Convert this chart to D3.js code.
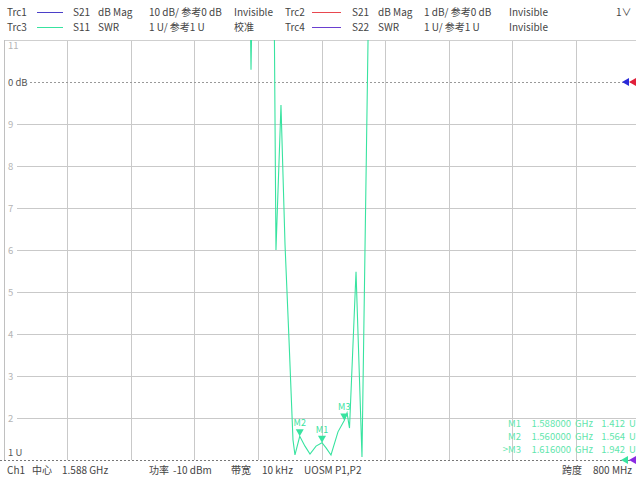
<!DOCTYPE html>
<html><head><meta charset="utf-8">
<script src="https://cdn.jsdelivr.net/npm/d3@7"></script>
<style>
html,body{margin:0;padding:0;background:#fff;}
svg{display:block;font-family:"Noto Sans CJK SC","Noto Sans",sans-serif;}
</style></head>
<body>
<script>
// ---- data ----
const freqGHz = [1.188, 1.400, 1.4962, 1.4987, 1.5019, 1.5270, 1.5301, 1.5364, 1.5415, 1.5465, 1.5515, 1.5540,
  1.5600, 1.5666, 1.5729, 1.5805, 1.5880, 1.5931, 1.5993, 1.6081, 1.6160, 1.6195, 1.6226, 1.6308, 1.6383,
  1.6459, 1.6484, 1.800, 1.988];
const swr = [16, 16, 14, 10.29, 14, 14, 6.0, 9.45, 6.12, 3.86, 1.48, 1.12,
  1.564, 1.33, 1.14, 1.33, 1.412, 1.29, 1.12, 1.67, 1.942, 2.12, 1.76, 5.48, 1.07,
  11.0, 14, 16, 16];
const markerNames = ["M1", "M2", "M3"];
const markerFreq = [1.588, 1.560, 1.616];
const markerVal = [1.412, 1.564, 1.942];
const yTicks = [1, 2, 3, 4, 5, 6, 7, 8, 9, 10, 11];
const yTickLabels = ["1 U", "2", "3", "4", "5", "6", "7", "8", "9", "0 dB", "11"];
const headerRow1 = [["Trc1", 7], ["S21", 73], ["dB Mag", 98], ["10 dB/ 参考0 dB", 149], ["Invisible", 234],
  ["Trc2", 285], ["S21", 352], ["dB Mag", 378], ["1 dB/ 参考0 dB", 424], ["Invisible", 509], ["1∨", 616]];
const headerRow2 = [["Trc3", 7], ["S11", 73], ["SWR", 98], ["1 U/ 参考1 U", 149], ["校准", 234],
  ["Trc4", 285], ["S22", 352], ["SWR", 378], ["1 U/ 参考1 U", 424], ["Invisible", 509]];
const footer = [["Ch1", 7], ["中心", 32], ["1.588 GHz", 62], ["功率", 149], ["-10 dBm", 173], ["带宽", 231],
  ["10 kHz", 262], ["UOSM P1,P2", 304], ["跨度", 562], ["800 MHz", 593]];
const center = 1.588, span = 0.8;

// ---- layout ----
const W = 636, H = 479;
const L = 4, R = 640, T = 40, B = 460;
const green = "#38e3a0";

const svg = d3.select("body").append("svg").attr("width", W).attr("height", H);
const x = d3.scaleLinear().domain([center - span / 2, center + span / 2]).range([L, R]);
const y = d3.scaleLinear().domain([1, 11]).range([B, T]);

// grid
const vTicks = d3.range(1, 10).map(i => center - span / 2 + i * span / 10);
svg.append("g").selectAll("line").data(vTicks).join("line")
  .attr("x1", d => x(d)).attr("x2", d => x(d)).attr("y1", T).attr("y2", B)
  .attr("stroke", "#c9c9c9").attr("stroke-width", 1).attr("shape-rendering", "crispEdges");
svg.append("g").selectAll("line").data(yTicks.filter(v => v > 1 && v < 10)).join("line")
  .attr("x1", 17).attr("x2", W).attr("y1", d => y(d)).attr("y2", d => y(d))
  .attr("stroke", "#c9c9c9").attr("stroke-width", 1).attr("shape-rendering", "crispEdges");
// borders
svg.append("line").attr("x1", L).attr("x2", W).attr("y1", T).attr("y2", T).attr("stroke", "#cfcfcf").attr("shape-rendering", "crispEdges");
svg.append("line").attr("x1", L).attr("x2", L).attr("y1", T).attr("y2", B).attr("stroke", "#c0c0c0").attr("shape-rendering", "crispEdges");
// reference dashed lines
svg.append("line").attr("x1", 30).attr("x2", W).attr("y1", y(10)).attr("y2", y(10))
  .attr("stroke", "#999").attr("stroke-dasharray", "2,2").attr("shape-rendering", "crispEdges");
svg.append("line").attr("x1", 0).attr("x2", W).attr("y1", y(1)).attr("y2", y(1))
  .attr("stroke", "#777").attr("stroke-dasharray", "2,2").attr("shape-rendering", "crispEdges");

// y labels
svg.append("g").selectAll("text").data(yTicks).join("text")
  .attr("x", 8)
  .attr("y", d => d === 11 ? y(d) + 9 : d === 1 ? y(d) - 4 : y(d) + 3.5)
  .attr("font-size", 9.5)
  .attr("fill", d => (d === 10 || d === 1) ? "#555" : "#b5b5b5")
  .text((d, i) => yTickLabels[i]);

// trace
const clip = svg.append("clipPath").attr("id", "plotclip").append("rect")
  .attr("x", L).attr("y", T).attr("width", R - L).attr("height", B - T);
const pts = freqGHz.map((f, i) => [f, swr[i]]);
svg.append("path").datum(pts)
  .attr("clip-path", "url(#plotclip)")
  .attr("fill", "none").attr("stroke", green).attr("stroke-width", 1.1)
  .attr("d", d3.line().x(d => x(d[0])).y(d => y(d[1])));

// markers
const mk = svg.append("g");
markerNames.forEach((n, i) => {
  const px = x(markerFreq[i]), py = y(markerVal[i]);
  mk.append("path").attr("d", `M${px},${py}L${px - 4},${py - 7}L${px + 4},${py - 7}Z`).attr("fill", green);
  mk.append("text").attr("x", px).attr("y", py - 10).attr("text-anchor", "middle")
    .attr("font-size", 9).attr("fill", green).text(n);
});

// marker table
[0, 1, 2].forEach((i, r) => {
  const by = 427 + r * 13;
  const g = svg.append("g").attr("font-size", 9.5).attr("fill", "#5fe6ad");
  g.append("text").attr("x", 521).attr("y", by).attr("text-anchor", "end").text((i === 2 ? ">" : "") + markerNames[i]);
  g.append("text").attr("x", 571).attr("y", by).attr("text-anchor", "end").text(markerFreq[i].toFixed(6));
  g.append("text").attr("x", 575).attr("y", by).text("GHz");
  g.append("text").attr("x", 625).attr("y", by).attr("text-anchor", "end").text(markerVal[i].toFixed(3));
  g.append("text").attr("x", 629).attr("y", by).text("U");
});

// reference arrows on right
const arrow = (tx, ty, col) => svg.append("path")
  .attr("d", `M${tx},${ty}L${tx + 7},${ty - 4}L${tx + 7},${ty + 4}Z`).attr("fill", col);
arrow(622, y(10), "#2a2ad8");
arrow(629, y(10), "#e0203a");
arrow(621, y(1), green);
arrow(629, y(1), "#8a2be2");

// header
const hdr = svg.append("g").attr("font-size", 10).attr("fill", "#444");
headerRow1.forEach(([t, px]) => hdr.append("text").attr("x", px).attr("y", 16).text(t));
headerRow2.forEach(([t, px]) => hdr.append("text").attr("x", px).attr("y", 31).text(t));
const swatch = [[37, 63, 12, "#4b3fc8"], [312, 341, 12, "#e8474f"], [37, 63, 27, green], [312, 341, 27, "#6a3fd0"]];
svg.append("g").selectAll("line").data(swatch).join("line")
  .attr("x1", d => d[0]).attr("x2", d => d[1]).attr("y1", d => d[2] + 0.5).attr("y2", d => d[2] + 0.5)
  .attr("stroke", d => d[3]).attr("stroke-width", 1);

// footer
const ft = svg.append("g").attr("font-size", 10).attr("fill", "#444");
footer.forEach(([t, px]) => ft.append("text").attr("x", px).attr("y", 474).text(t));
</script>
</body></html>
